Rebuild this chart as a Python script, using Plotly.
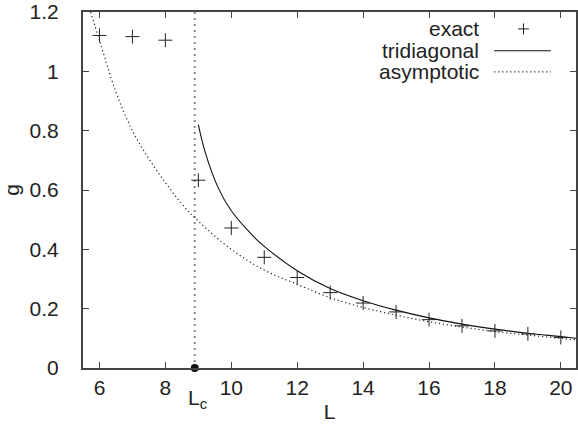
import plotly.graph_objects as go

# Exact eigenvalue estimates
exact_L = [6, 7, 8, 9, 10, 11, 12, 13, 14, 15, 16, 17, 18, 19, 20]
exact_g = [1.121, 1.117, 1.105, 0.633, 0.472, 0.373, 0.305, 0.254, 0.219,
           0.189, 0.163, 0.142, 0.125, 0.115, 0.103]

# Tridiagonal approximation
tri_L = [9.0, 9.2, 9.6, 10.0, 10.6, 11, 12, 13, 14, 15, 16, 17, 18, 19, 20, 20.5]
tri_g = [0.820, 0.730, 0.608, 0.530, 0.452, 0.410, 0.328, 0.268, 0.227,
         0.195, 0.169, 0.148, 0.131, 0.117, 0.106, 0.100]

# Asymptotic curve
asym_L = [5.73, 6, 6.5, 7, 7.5, 8, 8.5, 9, 10, 11, 12, 13, 14, 15, 16, 17,
          18, 19, 20, 20.5]
asym_g = [1.20, 1.105, 0.93, 0.80, 0.705, 0.625, 0.553, 0.495, 0.40, 0.33,
          0.282, 0.237, 0.204, 0.178, 0.156, 0.138, 0.123, 0.111, 0.100, 0.095]

L_c = 8.89
x_ticks = [6, 8, 10, 12, 14, 16, 18, 20]
y_ticks = [0, 0.2, 0.4, 0.6, 0.8, 1, 1.2]
y_ticktext = ["0", "0.2", "0.4", "0.6", "0.8", "1", "1.2"]
legend_names = ["exact", "tridiagonal", "asymptotic"]

FONT = "Liberation Sans, Arial, Helvetica, sans-serif"
TXT = "#222222"
AX = "#444444"

fig = go.Figure()

# critical length marker line
fig.add_trace(go.Scatter(x=[L_c, L_c], y=[0, 1.2], mode="lines",
                         line=dict(color="#888888", width=2, dash="2px,4px"),
                         showlegend=False, hoverinfo="skip"))

fig.add_trace(go.Scatter(x=asym_L, y=asym_g, mode="lines", line_shape="spline",
                         line=dict(color="#222222", width=1.2, dash="1.2px,2.8px"),
                         showlegend=False))
fig.add_trace(go.Scatter(x=tri_L, y=tri_g, mode="lines", line_shape="spline",
                         line=dict(color="#111111", width=1.1),
                         showlegend=False))
fig.add_trace(go.Scatter(x=exact_L, y=exact_g, mode="markers",
                         marker=dict(symbol="cross-thin", size=10,
                                     line=dict(color="#222222", width=1)),
                         showlegend=False))
fig.add_trace(go.Scatter(x=[L_c], y=[0], mode="markers",
                         marker=dict(color="#111111", size=8),
                         cliponaxis=False, showlegend=False))

# hand-drawn key: text on the left, sample on the right
key_y = [0.9525, 0.891, 0.832]
for name, yy in zip(legend_names, key_y):
    fig.add_annotation(xref="paper", yref="paper", x=0.808, y=yy, text=name,
                       showarrow=False, xanchor="right", yanchor="middle",
                       font=dict(family=FONT, size=21, color=TXT))
# plus sign for "exact"
px_c, py_c = 0.8935, 0.9525
fig.add_shape(type="line", xref="paper", yref="paper",
              x0=px_c - 0.011, x1=px_c + 0.011, y0=py_c, y1=py_c,
              line=dict(color="#222222", width=1))
fig.add_shape(type="line", xref="paper", yref="paper",
              x0=px_c, x1=px_c, y0=py_c - 0.0155, y1=py_c + 0.0155,
              line=dict(color="#222222", width=1))
fig.add_shape(type="line", xref="paper", yref="paper",
              x0=0.834, x1=0.949, y0=key_y[1], y1=key_y[1],
              line=dict(color="#111111", width=1.1))
fig.add_shape(type="line", xref="paper", yref="paper",
              x0=0.834, x1=0.949, y0=key_y[2], y1=key_y[2],
              line=dict(color="#222222", width=1.2, dash="1.2px,2.8px"))

# L_c label under the axis
fig.add_annotation(x=L_c, xref="x", y=0, yref="paper", yshift=-16, xshift=3,
                   text="L<sub>c</sub>", showarrow=False, yanchor="top",
                   font=dict(family=FONT, size=21, color=TXT))

fig.update_layout(
    width=578, height=435,
    margin=dict(l=83, r=0, t=10, b=67),
    paper_bgcolor="white", plot_bgcolor="white",
    font=dict(family=FONT, size=21, color=TXT),
    showlegend=False,
)
fig.update_xaxes(range=[5.5, 20.46], tickvals=x_ticks,
                 ticktext=[str(v) for v in x_ticks],
                 ticks="inside", ticklen=6, tickcolor=AX, tickwidth=1,
                 showline=True, linecolor=AX, linewidth=2, mirror="ticks",
                 showgrid=False, zeroline=False, ticklabeloverflow="allow",
                 title=dict(text="L", standoff=6,
                            font=dict(family=FONT, size=21, color=TXT)))
fig.update_yaxes(range=[0, 1.2], tickvals=y_ticks, ticktext=y_ticktext,
                 ticks="inside", ticklen=6, tickcolor=AX, tickwidth=1,
                 showline=True, linecolor=AX, linewidth=2, mirror="ticks",
                 showgrid=False, zeroline=False, ticklabelstandoff=18,
                 ticklabeloverflow="allow",
                 title=dict(text="g", standoff=14,
                            font=dict(family=FONT, size=21, color=TXT)))

fig.write_html("out.html")
